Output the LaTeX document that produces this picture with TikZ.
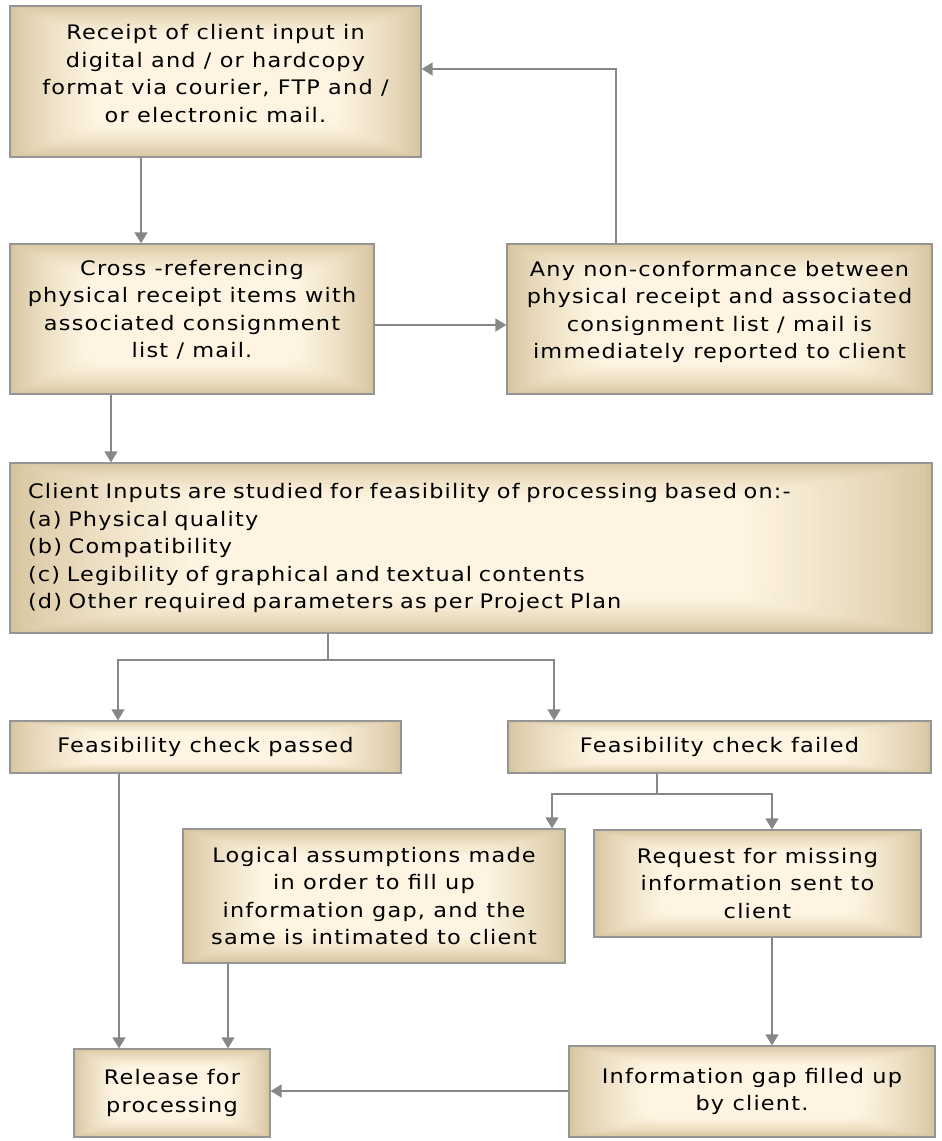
\documentclass[tikz,border=0pt]{standalone}
\usepackage{fontspec}
\setmainfont{DejaVu Sans}[FakeStretch=1.12,LetterSpace=6]
\usetikzlibrary{arrows.meta,calc}
\definecolor{boxedge}{HTML}{D6C49E}
\definecolor{boxmid}{HTML}{FEF4E1}
\definecolor{boxline}{HTML}{959595}
\definecolor{arrgray}{HTML}{878787}
\begin{document}
\begin{tikzpicture}[x=1pt,y=-1pt,
  bevel/.style={path picture={
    \fill[boxedge] (path picture bounding box.south west) rectangle (path picture bounding box.north east);
    \foreach \i in {1,...,28}{
      \pgfmathsetmacro\pc{100*(\i/28)^0.75}
      \pgfmathsetmacro\fr{#1*\i/28}
      \fill[boxmid!\pc!boxedge, rounded corners=\i*0.6pt]
        ($(path picture bounding box.south west)!\fr!(path picture bounding box.north east)$) rectangle
        ($(path picture bounding box.north east)!\fr!(path picture bounding box.south west)$);
    }}},
  box/.style={draw=boxline, line width=1.3pt, bevel=0.2,
    inner sep=0pt, align=center, font=\fontsize{20}{27.5}\selectfont},
  txt/.style={align=center, inner sep=0pt, font=\fontsize{20}{27.5}\selectfont},
  arr/.style={draw=arrgray, line width=1.5pt, -{Triangle[length=11pt,width=13pt]}},
  ln/.style={draw=arrgray, line width=1.5pt}]
\useasboundingbox (0,0) rectangle (942,1141);
\node[box, minimum width=411pt, minimum height=151pt] (A) at (215.5,81.5) {};
\node[txt] (At) at ([yshift=8pt]A.center)
  {Receipt of client input in\\digital and / or hardcopy\\format via courier, FTP and /\\or electronic mail.};
\node[box, minimum width=364pt, minimum height=150pt] (B) at (192,319) {};
\node[txt] (Bt) at ([yshift=9pt]B.center)
  {Cross -referencing\\physical receipt items with\\associated consignment\\list / mail.};
\node[box, minimum width=425pt, minimum height=150pt] (C) at (719.5,319) {};
\node[txt] (Ct) at ([yshift=7pt]C.center)
  {Any non-conformance between\\physical receipt and associated\\consignment list / mail is\\immediately reported to client};
\node[box, minimum width=922pt, minimum height=170pt, align=left, text width=886pt] (D) at (471,548)
  {Client Inputs are studied for feasibility of processing based on:-\\(a) Physical quality\\(b) Compatibility\\(c) Legibility of graphical and textual contents\\(d) Other required parameters as per Project Plan};
\node[box, minimum width=391pt, minimum height=52pt] (E) at (205.5,747)
  {Feasibility check passed};
\node[box, minimum width=423pt, minimum height=52pt] (F) at (719.5,747)
  {Feasibility check failed};
\node[box, minimum width=382pt, minimum height=134pt] (G) at (374,896)
  {Logical assumptions made\\in order to fill up\\information gap, and the\\same is intimated to client};
\node[box, minimum width=327pt, minimum height=107pt] (H) at (757.5,883.5)
  {Request for missing\\information sent to\\client};
\node[box, minimum width=366pt, minimum height=91pt] (I) at (752,1091.5)
  {Information gap filled up\\by client.};
\node[box, minimum width=196pt, minimum height=88pt] (J) at (172,1093)
  {Release for\\processing};
% connectors
\draw[arr] (A.south -| 141,0) -- (B.north -| 141,0);
\draw[arr] (B.east |- 0,325) -- (C.west |- 0,325);
\draw[arr] (C.north -| 616,0) |- (A.east |- 0,69);
\draw[arr] (B.south -| 111,0) -- (D.north -| 111,0);
\coordinate (dj) at (328,660);
\draw[ln] (D.south -| dj) -- (dj);
\draw[arr] (dj) -| (E.north -| 118,0);
\draw[arr] (dj) -| (F.north -| 554,0);
\coordinate (fj) at (657,794);
\draw[ln] (F.south -| fj) -- (fj);
\draw[arr] (fj) -| (G.north -| 552,0);
\draw[arr] (fj) -| (H.north -| 772,0);
\draw[arr] (E.south -| 119,0) -- (J.north -| 119,0);
\draw[arr] (G.south -| 228,0) -- (J.north -| 228,0);
\draw[arr] (H.south -| 772,0) -- (I.north -| 772,0);
\draw[arr] (I.west |- 0,1091) -- (J.east |- 0,1091);
\end{tikzpicture}
\end{document}
